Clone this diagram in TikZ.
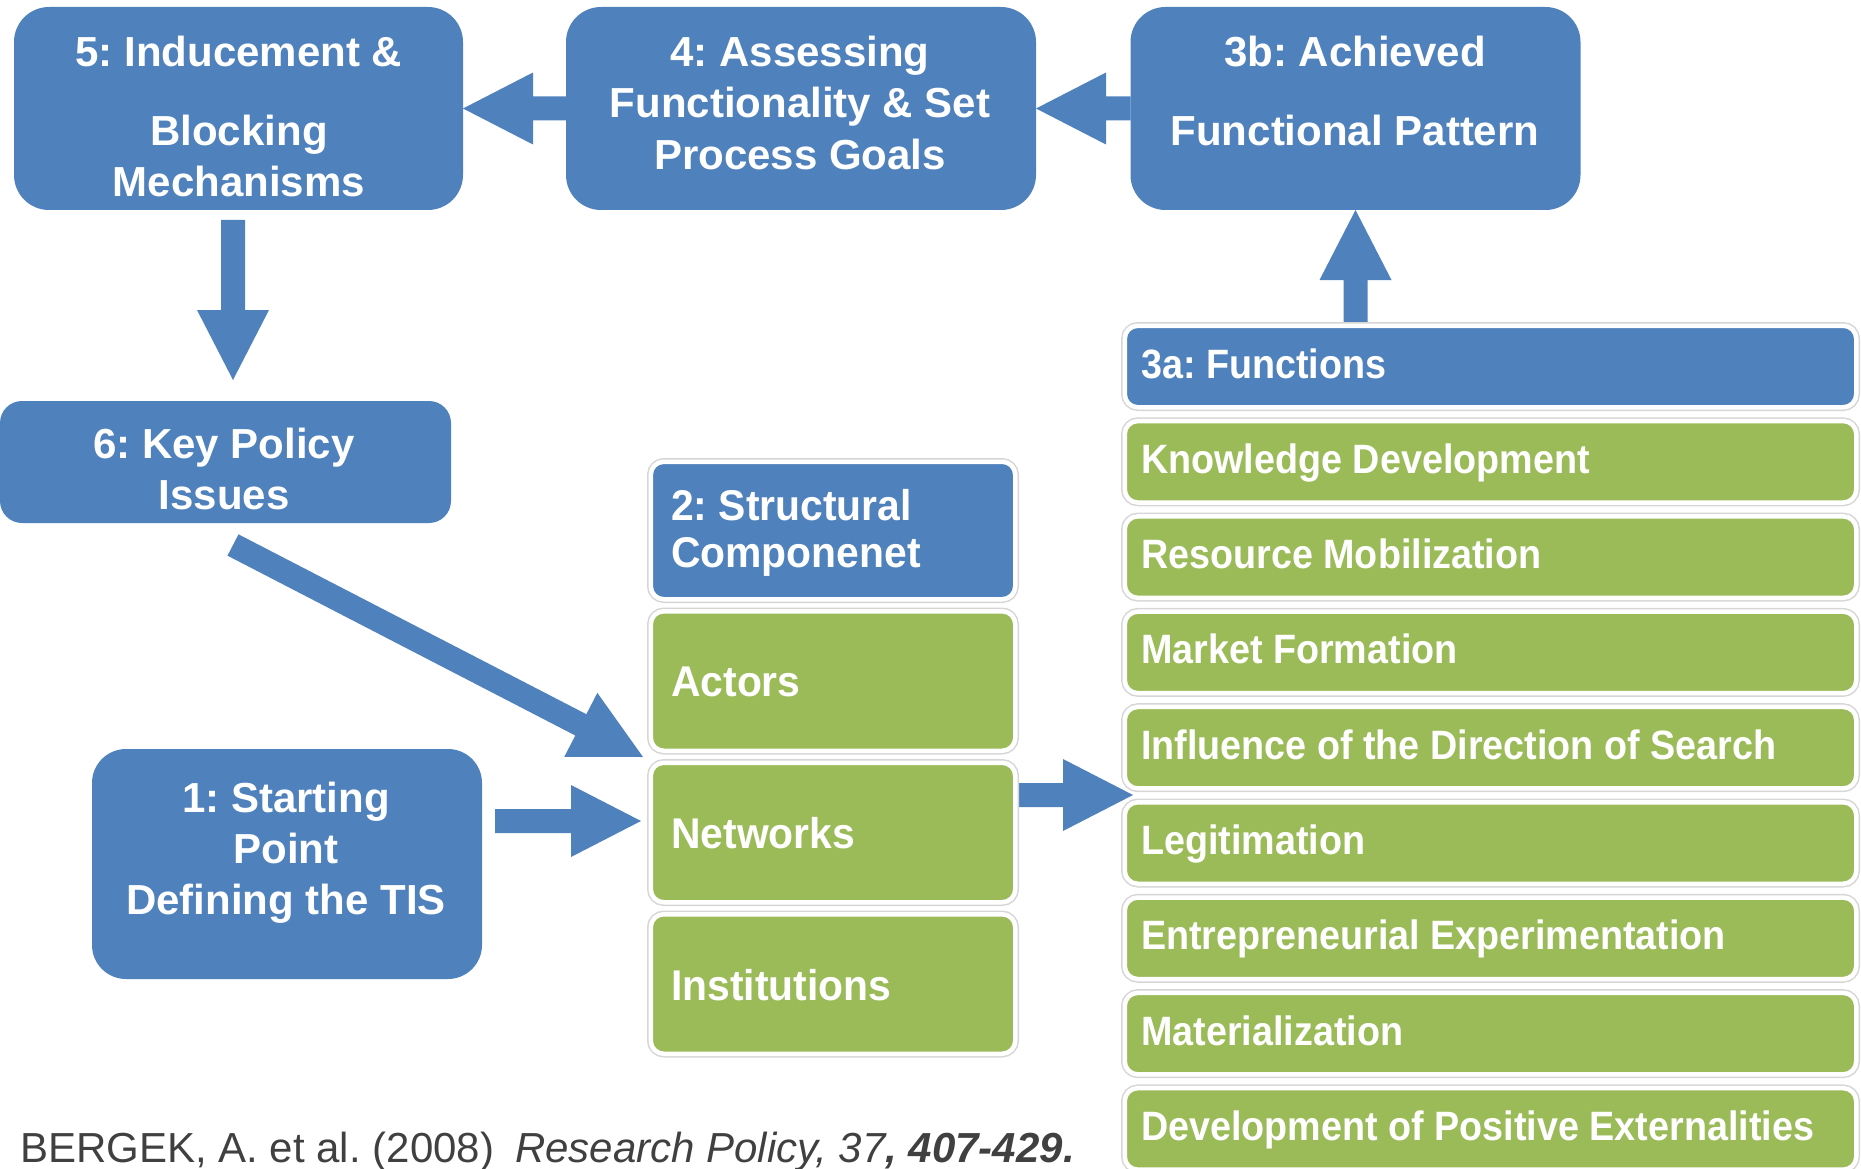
\documentclass[tikz,border=0pt]{standalone}
\usepackage{fontspec}
\setmainfont{Liberation Sans}
\newfontfamily\condsans[FakeStretch=0.92]{Liberation Sans}
\newfontfamily\midsans[FakeStretch=0.95]{Liberation Sans}
\usetikzlibrary{calc}
\definecolor{tisblue}{HTML}{4F81BD}
\definecolor{tisgreen}{HTML}{9BBB59}
\definecolor{citegray}{HTML}{404040}
\definecolor{framegray}{HTML}{D6D6D6}
\newcommand\fatarrow[2]{%
  \path ($(#2)!70pt!(#1)$) coordinate (fahb);
  \fill[tisblue] ($(#1)!12pt!90:(#2)$) -- ($(fahb)!12pt!90:(#2)$) -- ($(fahb)!36pt!90:(#2)$)
     -- (#2) -- ($(fahb)!36pt!-90:(#2)$) -- ($(fahb)!12pt!-90:(#2)$) -- ($(#1)!12pt!-90:(#2)$) -- cycle;
}
\tikzset{
  bigbox/.style={fill=tisblue, draw=none, inner sep=0pt, outer sep=0pt},
  colbox/.style={rounded corners=13pt, draw=white, line width=4.5pt,
     preaction={draw=framegray, line width=7.5pt}, inner sep=0pt, outer sep=0pt},
  toptext/.style={text=white, font=\fontsize{42}{50}\selectfont\bfseries, inner sep=0pt, anchor=base},
  coltwotext/.style={text=white, font=\midsans\fontsize{43}{47}\selectfont\bfseries, inner sep=0pt, anchor=base west},
  colthreetext/.style={text=white, font=\condsans\fontsize{41}{47}\selectfont\bfseries, inner sep=0pt, anchor=base west},
  citetext/.style={text=citegray, font=\fontsize{42}{48}\selectfont, inner sep=0pt, anchor=base west}
}
\begin{document}
\frenchspacing
\begin{tikzpicture}[x=1pt,y=-1pt]
\useasboundingbox (0,0) rectangle (1861,1169);

% big blue boxes
\node[bigbox, rounded corners=35pt, minimum width=449pt, minimum height=203pt] (b5) at (238.5,108.5) {};
\node[bigbox, rounded corners=35pt, minimum width=470pt, minimum height=203pt] (b4) at (801,108.5) {};
\node[bigbox, rounded corners=35pt, minimum width=450pt, minimum height=203pt] (b3b) at (1355.5,108.5) {};
\node[bigbox, rounded corners=22pt, minimum width=451pt, minimum height=122pt] (b6) at (225.5,462) {};
\node[bigbox, rounded corners=34pt, minimum width=390pt, minimum height=230pt] (b1) at (287,864) {};

% free ends of arrows
\coordinate (d5a) at (233,220);
\coordinate (d5b) at (233,380);
\coordinate (dga) at (233,545);
\coordinate (dgb) at (643,757);
\coordinate (a1s) at (495,821);
\coordinate (a1e) at (641,821);
\coordinate (ans) at (1013,795);
\coordinate (ane) at (1133,795);
\coordinate (aus) at (1355.5,322);

% arrows (behind the framed boxes)
\fatarrow{b4.west}{b5.east}
\fatarrow{b3b.west}{b4.east}
\fatarrow{aus}{b3b.south}
\fatarrow{d5a}{d5b}
\fatarrow{dga}{dgb}
\fatarrow{a1s}{a1e}
\fatarrow{ans}{ane}

% column 2
\node[colbox, fill=tisblue, minimum width=364.5pt, minimum height=137.5pt] (s2) at (833,530.5) {};
\node[colbox, fill=tisgreen, minimum width=364.5pt, minimum height=139.5pt] (act) at (833,681) {};
\node[colbox, fill=tisgreen, minimum width=364.5pt, minimum height=139.5pt] (net) at (833,832.5) {};
\node[colbox, fill=tisgreen, minimum width=364.5pt, minimum height=139.5pt] (ins) at (833,984) {};

% column 3
\foreach \i/\lab/\col in {0/{3a: Functions}/tisblue, 1/{Knowledge Development}/tisgreen,
   2/{Resource Mobilization}/tisgreen, 3/{Market Formation}/tisgreen,
   4/{Influence of the Direction of Search}/tisgreen, 5/{Legitimation}/tisgreen,
   6/{Entrepreneurial Experimentation}/tisgreen, 7/{Materialization}/tisgreen,
   8/{Development of Positive Externalities}/tisgreen}{
  \pgfmathsetmacro\boxtop{328+95.3*\i}
  \node[colbox, fill=\col, minimum width=731.5pt, minimum height=81.5pt] (f\i) at (1490.5,\boxtop+38.5) {};
  \node[colthreetext] (ft\i) at (1141,\boxtop+50) {\lab};
}

% texts of blue boxes
\node[toptext] (t5a) at (239,67) {5: Inducement \&};
\node[toptext] (t5b) at (239,146) {Blocking};
\node[toptext] (t5c) at (239,197) {Mechanisms};
\node[toptext] (t4a) at (800,67) {4: Assessing};
\node[toptext] (t4b) at (800,118) {Functionality \& Set};
\node[toptext] (t4c) at (800,170) {Process Goals};
\node[toptext] (t3a) at (1355,67) {3b: Achieved};
\node[toptext] (t3b) at (1355,146) {Functional Pattern};
\node[toptext] (t6a) at (224,458) {6: Key Policy};
\node[toptext] (t6b) at (224,509) {Issues};
\node[toptext] (t1a) at (286,812) {1: Starting};
\node[toptext] (t1b) at (286,863) {Point};
\node[toptext] (t1c) at (286,914) {Defining the TIS};

% texts of column 2
\node[coltwotext] (ts2a) at (671,520) {2: Structural};
\node[coltwotext] (ts2b) at (671,567) {Componenet};
\node[coltwotext] (tact) at (671,696) {Actors};
\node[coltwotext] (tnet) at (671,848) {Networks};
\node[coltwotext] (tins) at (671,1000) {Institutions};

% citation
\node[citetext] (cite1) at (20,1162) {BERGEK, A. et al. (2008)};
\node[citetext] (cite2) at (515,1162) {\itshape Research Policy, 37\bfseries, 407-429.};
\end{tikzpicture}
\end{document}
